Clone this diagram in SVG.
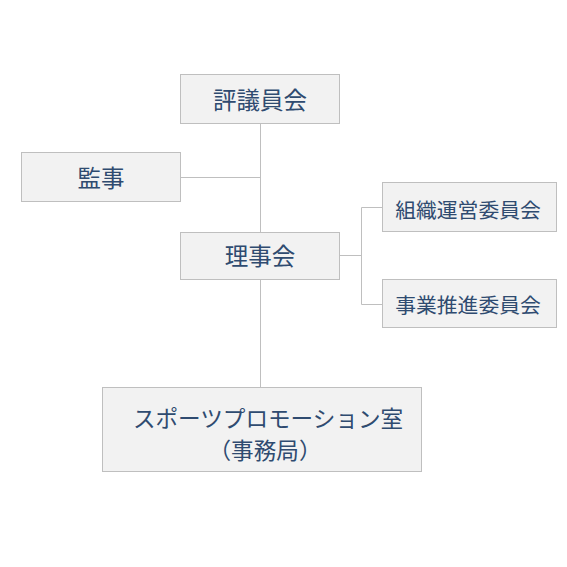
<svg xmlns="http://www.w3.org/2000/svg" width="567" height="567" viewBox="0 0 567 567">
<style>
.box{fill:#f2f2f2;stroke:#bfbfbf;stroke-width:1}
.t{font-family:"Noto Sans CJK JP","Noto Sans CJK SC",sans-serif;fill:#2f4b70;text-anchor:middle;dominant-baseline:central}
.c{fill:none;stroke:#bfbfbf;stroke-width:1}
</style>
<rect width="567" height="567" fill="#ffffff"/>
<g id="connectors">
<path class="c" d="M260.5 124V232M181 177.5H260.5M260.5 279V387M339 255.5H361.5M361.5 207.5V304.5M361.5 207.5H382M361.5 304.5H382"/>
</g>
<g id="hyogiinkai">
<rect class="box" x="180.5" y="74.5" width="159" height="49"/>
<text class="t" x="260" y="99" font-size="23.5">評議員会</text>
</g>
<g id="kanji">
<rect class="box" x="21.5" y="152.5" width="159" height="49"/>
<text class="t" x="101" y="177" font-size="23.5">監事</text>
</g>
<g id="rijikai">
<rect class="box" x="180.5" y="232.5" width="159" height="47"/>
<text class="t" x="260" y="255" font-size="23.5">理事会</text>
</g>
<g id="soshiki">
<rect class="box" x="382.5" y="182.5" width="174" height="49"/>
<text class="t" x="468" y="209" font-size="20.8">組織運営委員会</text>
</g>
<g id="jigyo">
<rect class="box" x="382.5" y="279.5" width="174" height="48"/>
<text class="t" x="468" y="304" font-size="20.8">事業推進委員会</text>
</g>
<g id="sports">
<rect class="box" x="102.5" y="387.5" width="319" height="84"/>
<text class="t" x="268" y="417" font-size="22.6">スポーツプロモーション室</text>
<text class="t" x="265" y="449" font-size="22.6">（事務局）</text>
</g>
</svg>
